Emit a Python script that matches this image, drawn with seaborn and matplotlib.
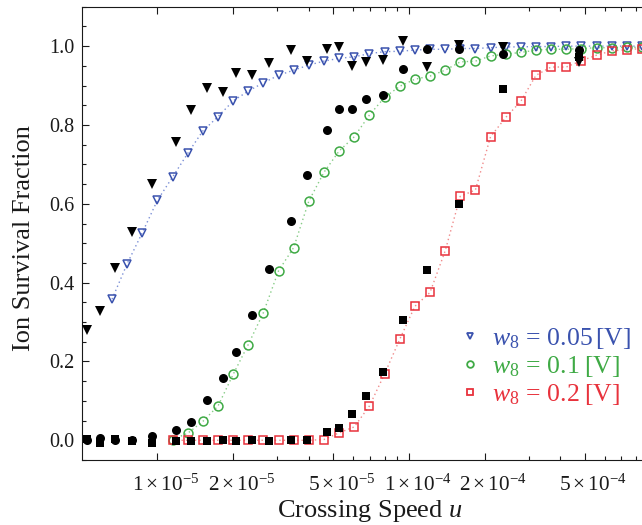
import matplotlib
matplotlib.use("Agg")
import matplotlib.pyplot as plt
from matplotlib.lines import Line2D
from matplotlib.transforms import ScaledTranslation
from matplotlib.ticker import FixedLocator, FixedFormatter, MultipleLocator, NullFormatter
import pandas as pd
import seaborn as sns

# ---- data -------------------------------------------------------------
# crossing speeds shared by the three w8 scans
speed_grid = [6.60e-6, 7.58e-6, 8.71e-6, 1.00e-5, 1.149e-5, 1.32e-5, 1.516e-5, 1.741e-5,
              2.00e-5, 2.297e-5, 2.639e-5, 3.031e-5, 3.482e-5, 4.00e-5, 4.595e-5, 5.278e-5,
              6.063e-5, 6.964e-5, 8.00e-5, 9.19e-5, 1.056e-4, 1.213e-4, 1.393e-4, 1.600e-4,
              1.838e-4, 2.111e-4, 2.425e-4, 2.786e-4, 3.20e-4, 3.676e-4, 4.222e-4, 4.850e-4,
              5.572e-4, 6.400e-4, 7.352e-4, 8.445e-4]

surv_w005 = [0.358, 0.448, 0.527, 0.609, 0.668, 0.728, 0.785, 0.821, 0.861, 0.886,
             0.907, 0.926, 0.939, 0.952, 0.962, 0.969, 0.973, 0.981, 0.986, 0.987,
             0.990, 0.992, 0.992, 0.994, 0.994, 0.996, 0.998, 0.998, 0.999, 0.999,
             1.000, 1.000, 1.000, 1.000, 1.000, 1.000]
# the w8 = 0.1 and 0.2 scans start at the fifth grid speed
surv_w01 = [0.002, 0.018, 0.048, 0.087, 0.167, 0.243, 0.324, 0.430, 0.489, 0.607,
            0.680, 0.734, 0.770, 0.825, 0.870, 0.898, 0.916, 0.924, 0.939, 0.960,
            0.962, 0.975, 0.980, 0.984, 0.990, 0.992, 0.992, 0.994, 0.996, 0.996,
            0.997, 0.997]
surv_w02 = [0.000, 0.000, 0.000, 0.000, 0.000, 0.000, 0.000, 0.000, 0.000, 0.000,
            0.002, 0.019, 0.034, 0.087, 0.168, 0.256, 0.340, 0.375, 0.480, 0.619,
            0.635, 0.770, 0.819, 0.860, 0.926, 0.947, 0.947, 0.963, 0.977, 0.988,
            0.991, 0.994]

# full simulation (filled black markers)
speed_sim = [5.27e-6, 5.93e-6, 6.77e-6, 7.90e-6, 9.48e-6, 1.185e-5, 1.354e-5, 1.58e-5,
             1.823e-5, 2.061e-5, 2.37e-5, 2.788e-5, 3.386e-5, 3.95e-5, 4.74e-5, 5.267e-5,
             5.925e-5, 6.771e-5, 7.90e-5, 9.48e-5, 1.185e-4, 1.58e-4, 2.37e-4, 4.74e-4]
sim_w005 = [0.279, 0.327, 0.437, 0.528, 0.650, 0.757, 0.839, 0.895, 0.884, 0.932,
            0.926, 0.956, 0.990, 0.963, 0.992, 0.998, 0.949, 0.960, 0.964, 1.013,
            0.947, 1.003, 0.998, 0.959]
sim_w01 = [0.000, 0.005, 0.000, 0.000, 0.012, 0.027, 0.046, 0.103, 0.157, 0.224,
           0.317, 0.434, 0.556, 0.672, 0.787, 0.841, 0.841, 0.866, 0.876, 0.942,
           0.992, 0.992, 0.981, 0.990]
sim_w02 = [0.003, -0.006, 0.004, -0.002, -0.006, -0.002, -0.002, -0.002, 0.002, -0.002,
           0.002, -0.002, 0.000, 0.000, 0.021, 0.030, 0.067, 0.112, 0.173, 0.305,
           0.431, 0.599, 0.891, 0.972]

legend_labels = [r"$w_8\,=\,0.05\,[\mathrm{V}]$",
                 r"$w_8\,=\,0.1\;[\mathrm{V}]$",
                 r"$w_8\,=\,0.2\;[\mathrm{V}]$"]
major_speeds = [1e-5, 2e-5, 5e-5, 1e-4, 2e-4, 5e-4]
major_labels = [r"$1\times10^{-5}$", r"$2\times10^{-5}$", r"$5\times10^{-5}$",
                r"$1\times10^{-4}$", r"$2\times10^{-4}$", r"$5\times10^{-4}$"]
minor_speeds = [3e-5, 4e-5, 6e-5, 7e-5, 8e-5, 9e-5, 3e-4, 4e-4, 6e-4, 7e-4, 8e-4]

# ---- style ------------------------------------------------------------
sns.set_theme(style="ticks")
plt.rcParams["font.family"] = ["Liberation Serif", "DejaVu Serif"]
plt.rcParams["mathtext.fontset"] = "custom"
plt.rcParams["mathtext.rm"] = "Liberation Serif"
plt.rcParams["mathtext.it"] = "Liberation Serif:italic"
plt.rcParams["mathtext.bf"] = "Liberation Serif:bold"

BLUE, GREEN, RED = "#3A52AE", "#3FAA45", "#E8323C"
BLUE_L, GREEN_L, RED_L = "#7B8FD6", "#86CC86", "#F08A8A"
INK = "#1a1a1a"

fig = plt.figure(figsize=(6.42, 5.25), dpi=100)
ax = fig.add_axes([0.1273, 0.1238, 0.8727, 0.8634])
ax.set_xscale("log")

scans = [
    (speed_grid, surv_w005, "v", BLUE, BLUE_L, 6.3),
    (speed_grid[4:], surv_w01, "o", GREEN, GREEN_L, 6.4),
    (speed_grid[4:], surv_w02, "s", RED, RED_L, 5.8),
]
for xs, ys, mk, col, lcol, ms in scans:
    df = pd.DataFrame({"u": xs, "frac": ys})
    sns.lineplot(data=df, x="u", y="frac", ax=ax, estimator=None, sort=False,
                 color=lcol, linewidth=1.0, linestyle=(0, (1, 2.2)), zorder=2)
    sns.lineplot(data=df, x="u", y="frac", ax=ax, estimator=None, sort=False,
                 linestyle="none", marker=mk, markersize=ms, markerfacecolor="none",
                 markeredgecolor=col, markeredgewidth=1.1, color=col, zorder=3,
                 clip_on=False)

sim = [
    (sim_w005, "v", 6.9),
    (sim_w01, "o", 6.5),
    (sim_w02, "s", 6.0),
]
for ys, mk, ms in sim:
    df = pd.DataFrame({"u": speed_sim, "frac": ys})
    sns.lineplot(data=df, x="u", y="frac", ax=ax, estimator=None, sort=False,
                 linestyle="none", marker=mk, markersize=ms, markerfacecolor="black",
                 markeredgecolor="black", markeredgewidth=0.0, color="black", zorder=4)

# ---- axes -------------------------------------------------------------
ax.set_xlim(5.0e-6, 8.45e-4)
ax.set_ylim(-0.05, 1.10)

ax.xaxis.set_major_locator(FixedLocator(major_speeds))
ax.xaxis.set_major_formatter(FixedFormatter(major_labels))
ax.xaxis.set_minor_locator(FixedLocator(minor_speeds))
ax.xaxis.set_minor_formatter(NullFormatter())
ax.yaxis.set_major_locator(MultipleLocator(0.2))
ax.yaxis.set_minor_locator(MultipleLocator(0.05))
ax.yaxis.set_major_formatter(matplotlib.ticker.FormatStrFormatter("%.1f"))

ax.tick_params(which="both", direction="in", top=True, right=False, colors=INK,
               width=0.8)
ax.tick_params(axis="y", labelsize=14.5)
ax.tick_params(axis="x", labelsize=15.3)
ax.tick_params(which="major", length=5)
ax.tick_params(which="minor", length=3)
ax.tick_params(axis="x", which="major", pad=10.5)
ax.tick_params(axis="y", which="major", pad=5)

# centre the mantissa part (not the exponent) under each tick
shift = ScaledTranslation(8.5 / 100, 0, fig.dpi_scale_trans)
for lab in ax.get_xticklabels():
    lab.set_transform(lab.get_transform() + shift)

for side in ("left", "bottom", "top"):
    ax.spines[side].set_color(INK)
    ax.spines[side].set_linewidth(0.8)
ax.spines["right"].set_visible(False)

ax.set_xlabel(r"Crossing Speed $u$", fontsize=19, color=INK)
ax.set_ylabel("Ion Survival Fraction", fontsize=19, color=INK)
ax.xaxis.set_label_coords(0.5146, -0.083, transform=ax.transAxes)
ax.yaxis.set_label_coords(-0.084, 0.489, transform=ax.transAxes)

handles = [
    Line2D([], [], linestyle="none", marker="v", markersize=4.8, markerfacecolor="none",
           markeredgecolor=BLUE, markeredgewidth=1.3),
    Line2D([], [], linestyle="none", marker="o", markersize=4.8, markerfacecolor="none",
           markeredgecolor=GREEN, markeredgewidth=1.3),
    Line2D([], [], linestyle="none", marker="s", markersize=4.6, markerfacecolor="none",
           markeredgecolor=RED, markeredgewidth=1.3),
]
ax.legend(handles, legend_labels, loc="center left", bbox_to_anchor=(0.6746, 0.2063),
          frameon=False, fontsize=18.5, labelcolor=[BLUE, GREEN, RED],
          handlelength=0.8, handletextpad=0.45, labelspacing=0.1, borderpad=0.0,
          borderaxespad=0.0)

fig.savefig("out.png", dpi=100)
